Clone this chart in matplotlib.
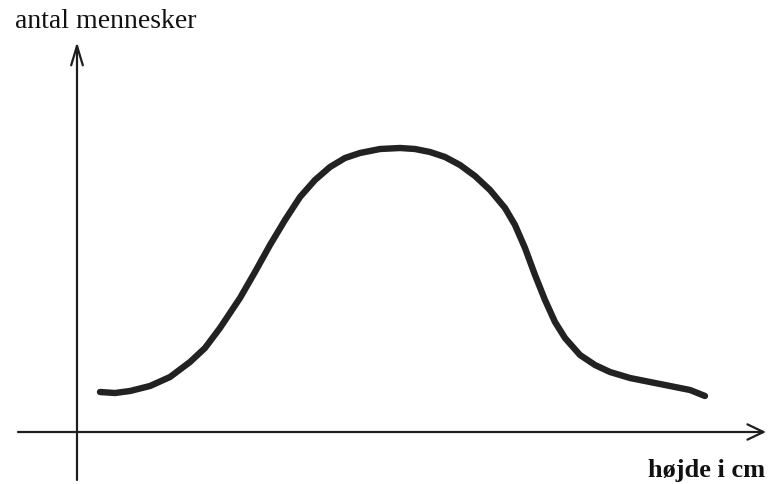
import matplotlib
matplotlib.use("Agg")
import matplotlib.pyplot as plt

# Curve (x: position along height axis, y: number of people),
# origin at the axes crossing, units ~ pixels
height_x = [22, 37, 52, 72, 92, 112, 127, 142, 162, 177, 192, 207, 222, 237, 252,
            267, 282, 302, 322, 337, 352, 367, 382, 397, 412, 427, 437, 447, 457,
            467, 477, 487, 502, 517, 532, 552, 572, 592, 612, 627]
people_y = [40, 39, 41, 46, 55, 70, 84, 104, 134, 160, 187, 212, 235, 252, 265,
            274, 279, 283, 284, 283, 280, 275, 267, 256, 242, 224, 207, 184, 157,
            132, 110, 94, 77, 67, 60, 54, 50, 46, 42, 36]

x_label = "højde i cm"
y_label = "antal mennesker"

fig = plt.figure(figsize=(7.68, 4.84), dpi=100)
ax = fig.add_axes([0, 0, 1, 1])
ax.set_xlim(-78, 690)
ax.set_ylim(-52, 432)
ax.axis("off")

axis_color = "#1e1e1e"
# axes with arrows
ax.annotate("", xy=(688, 0), xytext=(-60, 0),
            arrowprops=dict(arrowstyle="->,head_length=1.15,head_width=0.55",
                            lw=1.6, color=axis_color, shrinkA=0, shrinkB=0))
ax.annotate("", xy=(-1, 390), xytext=(-1, -48),
            arrowprops=dict(arrowstyle="->,head_length=1.4,head_width=0.42",
                            lw=1.6, color=axis_color, shrinkA=0, shrinkB=0))

ax.plot(height_x, people_y, color="#222222", lw=4.6, solid_capstyle="round",
        solid_joinstyle="round")

ax.text(-63, 404, y_label, fontfamily="Liberation Serif", fontsize=20,
        color="#111111", ha="left", va="baseline")
ax.text(687, -45, x_label, fontfamily="Liberation Serif", fontsize=19,
        color="#111111", ha="right", va="baseline", fontweight="bold")

fig.savefig("out.png", dpi=100, facecolor="white")
